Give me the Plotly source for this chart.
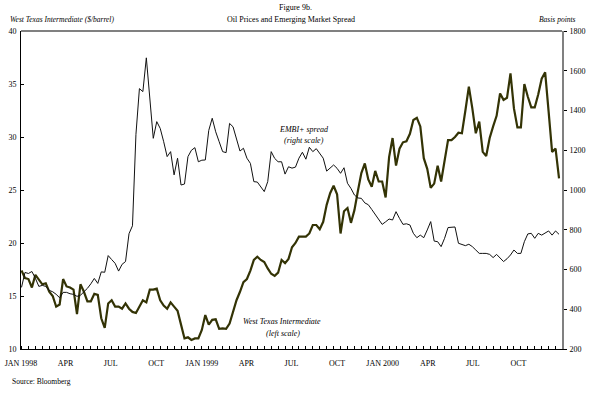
import pandas as pd
import plotly.graph_objects as go

# ---- data (weekly, from first Friday of Jan 1998) ----
start_date = "1998-01-02"
wti = [17.4, 16.7, 16.6, 15.8, 17.0, 16.6, 16.1, 16.2, 15.4, 15.0,
       14.0, 14.2, 16.6, 15.9, 15.8, 15.6, 13.3, 16.1, 15.4, 14.5,
       14.5, 15.2, 15.1, 12.9, 12.0, 14.3, 14.6, 14.0, 14.0, 13.8,
       14.3, 13.8, 13.5, 13.4, 14.0, 14.6, 14.4, 15.6, 15.6, 15.7,
       14.6, 14.1, 13.8, 14.4, 14.0, 13.6, 12.3, 11.0, 11.1, 10.85,
       11.0, 11.0, 11.8, 13.2, 12.3, 12.75, 12.8, 11.9, 11.95, 11.9,
       12.4, 13.5, 14.6, 15.4, 16.3, 16.6, 17.4, 18.4, 18.7, 18.4,
       18.2, 17.6, 17.1, 16.9, 17.2, 18.4, 18.1, 18.5, 19.6, 20.0,
       20.6, 20.6, 20.6, 20.9, 21.7, 21.7, 21.3, 22.0, 23.6, 24.7,
       25.4, 24.6, 20.9, 23.0, 23.3, 21.9, 23.1, 24.9, 26.6, 27.5,
       26.0, 25.3, 26.8, 25.8, 25.8, 24.3, 28.1, 29.9, 27.3, 28.9,
       29.5, 29.6, 30.3, 31.6, 31.8, 31.0, 28.0, 27.0, 25.2, 25.6,
       27.3, 25.8, 27.7, 29.7, 29.7, 30.0, 30.4, 30.35, 32.5, 34.75,
       32.7, 30.35, 31.45, 28.6, 28.2, 29.9, 31.0, 32.0, 34.1, 33.5,
       33.7, 36.0, 32.7, 30.9, 30.9, 35.0, 33.8, 32.8, 32.8, 34.0,
       35.5, 36.1, 32.4, 28.6, 28.9, 26.1]
embi = [510, 585, 580, 590, 556, 515, 520, 515, 495, 488,
        475, 458, 485, 485, 478, 475, 465, 470, 488, 505,
        528, 555, 530, 588, 586, 670, 650, 631, 592, 626,
        640, 780, 820, 1280, 1510, 1495, 1665, 1460, 1260, 1344,
        1310, 1243, 1168, 1193, 1076, 1160, 1025, 1030, 1168, 1200,
        1213, 1142, 1150, 1151, 1300, 1361, 1293, 1243, 1193, 1188,
        1335, 1318, 1252, 1196, 1210, 1160, 1134, 1042, 1040, 1017,
        992, 1042, 1193, 1159, 1142, 1142, 1080, 1117, 1110, 1115,
        1160, 1190, 1155, 1215, 1193, 1208, 1185, 1160, 1095, 1109,
        1126, 1109, 1084, 1112, 1034, 1008, 975, 960, 958, 935,
        926, 902, 878, 855, 827, 840, 854, 849, 891, 857,
        827, 830, 824, 782, 760, 773, 760, 799, 841, 743,
        740, 715, 757, 811, 812, 814, 732, 727, 720, 727,
        715, 698, 681, 681, 681, 676, 660, 676, 656, 640,
        654, 673, 698, 681, 681, 740, 779, 782, 757, 782,
        773, 782, 794, 773, 794, 777]

tick_dates = ["1998-01-01", "1998-04-01", "1998-07-01", "1998-10-01",
              "1999-01-01", "1999-04-01", "1999-07-01", "1999-10-01",
              "2000-01-01", "2000-04-01", "2000-07-01", "2000-10-01"]
tick_text = ["JAN 1998", "APR", "JUL", "OCT", "JAN 1999", "APR", "JUL", "OCT",
             "JAN 2000", "APR", "JUL", "OCT"]
left_ticks = [10, 15, 20, 25, 30, 35, 40]
right_ticks = [200, 400, 600, 800, 1000, 1200, 1400, 1600, 1800]

dates = pd.date_range(start_date, periods=len(wti), freq="7D")

W, H = 590, 394
L, R, T, B = 21, 562, 31, 349
FONT = "Liberation Serif, Times New Roman, serif"


def px(x):
    return (x - L) / (R - L)


def py(y):
    return (B - y) / (B - T)


fig = go.Figure()
fig.add_trace(go.Scatter(x=dates, y=embi, mode="lines", yaxis="y2",
                         line=dict(color="#111111", width=1), showlegend=False))
fig.add_trace(go.Scatter(x=dates, y=wti, mode="lines", yaxis="y",
                         line=dict(color="#333305", width=2.2), showlegend=False))

fig.update_layout(
    template="none",
    width=W, height=H, autosize=False,
    margin=dict(l=L, r=W - R, t=T, b=H - B, pad=0),
    paper_bgcolor="white", plot_bgcolor="white",
    font=dict(family=FONT, size=8, color="black"),
    xaxis=dict(type="date", range=["1998-01-01", "2000-12-28"], automargin=False,
               tickvals=tick_dates, ticktext=tick_text, ticks="",
               showgrid=False, zeroline=False, showline=True,
               linecolor="black", linewidth=1,
               tickfont=dict(size=8, color="black"), ticklabelstandoff=6,
               minor=dict(ticks="inside", ticklen=3, tickcolor="black",
                          dtick=14 * 86400000, tick0="1998-01-02",
                          showgrid=False)),
    yaxis=dict(range=[10, 40], tickvals=left_ticks, ticks="inside", ticklen=3,
               automargin=False,
               tickcolor="black", showgrid=False, zeroline=False,
               showline=True, linecolor="black", linewidth=1,
               tickfont=dict(size=8, color="black"), ticklabelstandoff=2),
    yaxis2=dict(range=[200, 1800], tickvals=right_ticks, overlaying="y",
                side="right", ticks="outside", ticklen=3, tickcolor="black",
                automargin=False,
                showgrid=False, zeroline=False, showline=True,
                linecolor="#808080", linewidth=2,
                tickfont=dict(size=8, color="black"), ticklabelstandoff=1),
    shapes=[dict(type="line", xref="paper", yref="paper", x0=0, x1=1, y0=1, y1=1,
                 line=dict(color="#808080", width=2))],
)

ann = [
    ("Figure 9b.", 295, 7, "center", False, 8),
    ("Oil Prices and Emerging Market Spread", 291, 19, "center", False, 8),
    ("West Texas Intermediate ($/barrel)", 8, 19, "left", True, 7.5),
    ("Basis points", 578, 19, "right", True, 7.5),
    ("Source: Bloomberg", 10, 381, "left", False, 7.5),
    ("EMBI+ spread", 304, 129, "center", True, 8),
    ("(right scale)", 304, 140, "center", True, 8),
    ("West Texas Intermediate", 282, 321, "center", True, 8),
    ("(left scale)", 283, 333, "center", True, 8),
]
for text, x, y, anchor, ital, size in ann:
    fig.add_annotation(text=f"<i>{text}</i>" if ital else text,
                       xref="paper", yref="paper", x=px(x), y=py(y),
                       xanchor=anchor, yanchor="middle", showarrow=False,
                       font=dict(family=FONT, size=size, color="black"))

fig.write_html("out.html", config={"displayModeBar": False},
               post_script="document.body.style.margin='0px';"
                           "document.body.style.overflow='hidden';")
